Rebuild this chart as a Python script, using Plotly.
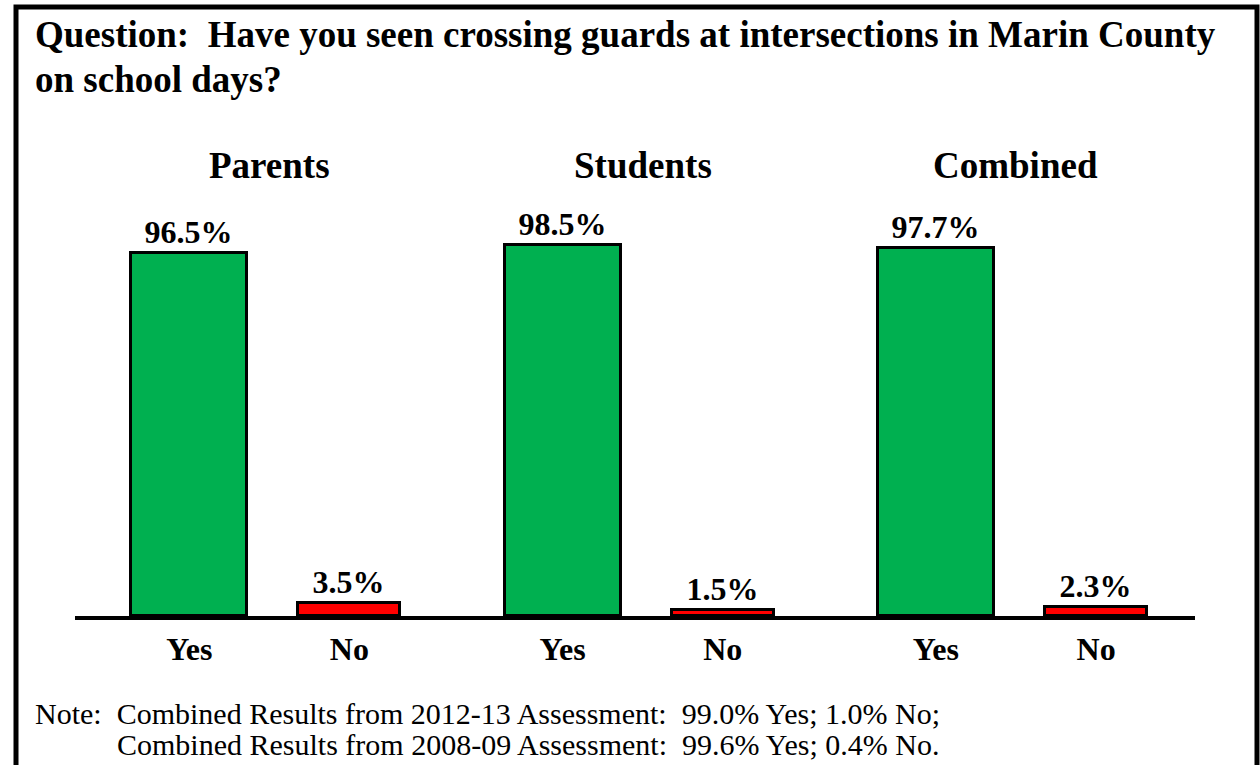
import plotly.graph_objects as go

# ---- data ----
groups = ["Parents", "Students", "Combined"]
yes_values = [96.5, 98.5, 97.7]
no_values = [3.5, 1.5, 2.3]
answer_labels = ["Yes", "No"]
title_lines = ["Question:  Have you seen crossing guards at intersections in Marin County",
               "on school days?"]
note_lines = ["Note:  Combined Results from 2012-13 Assessment:  99.0% Yes; 1.0% No;",
              "Combined Results from 2008-09 Assessment:  99.6% Yes; 0.4% No."]

# ---- layout constants (pixels) ----
W, H = 1260, 765
L, R = 75, 1195          # axis line extent
BASE, TOP = 616, 202     # baseline and top of plot area
YMAX = 110
YES_OFF, NO_OFF = 0.306, 0.735
YES_W, NO_W = 0.311, 0.273
FONT = "Liberation Serif, Times New Roman, serif"


def px(x):
    return (x - L) / (R - L)


def py(y):
    return (BASE - y) / (BASE - TOP)


n = len(groups)
x_yes = [i + YES_OFF for i in range(n)]
x_no = [i + NO_OFF for i in range(n)]

label_font = dict(family=FONT, size=32, color="black", weight="bold")

fig = go.Figure()
fig.add_trace(go.Bar(
    x=x_yes, y=yes_values, width=YES_W, name="Yes",
    marker=dict(color="#00B050", line=dict(color="black", width=3)),
    text=[f"{v:.1f}%" for v in yes_values], textposition="outside",
    textfont=label_font, cliponaxis=False,
))
fig.add_trace(go.Bar(
    x=x_no, y=no_values, width=NO_W, name="No",
    marker=dict(color="#FF0000", line=dict(color="black", width=3)),
    text=[f"{v:.1f}%" for v in no_values], textposition="outside",
    textfont=label_font, cliponaxis=False,
))

tickvals = []
ticktext = []
for i in range(n):
    tickvals += [x_yes[i], x_no[i]]
    ticktext += ["<b>" + a + "</b>" for a in answer_labels]

annotations = []
# title
for text, yy in zip(title_lines, [34, 79]):
    annotations.append(dict(xref="paper", yref="paper", x=px(33), y=py(yy), xanchor="left", yanchor="middle",
                            text="<b>" + text + "</b>", showarrow=False,
                            font=dict(family=FONT, size=37, color="black")))
# group titles
for i, g in enumerate(groups):
    annotations.append(dict(xref="x", yref="paper", x=(x_yes[i] + x_no[i]) / 2, y=py(165),
                            xanchor="center", yanchor="middle", text="<b>" + g + "</b>", showarrow=False,
                            font=dict(family=FONT, size=37, color="black")))
# note
for text, xx, yy in zip(note_lines, [33, 115], [713, 744]):
    annotations.append(dict(xref="paper", yref="paper", x=px(xx), y=py(yy), xanchor="left", yanchor="middle",
                            text=text, showarrow=False, font=dict(family=FONT, size=30, color="black")))

shapes = [dict(type="rect", xref="paper", yref="paper", x0=px(16), x1=px(1257), y0=py(800), y1=py(7),
               line=dict(color="black", width=5), fillcolor="rgba(0,0,0,0)", layer="above")]

fig.update_layout(
    width=W, height=H,
    margin=dict(l=L, r=W - R, t=TOP, b=H - BASE, pad=0),
    plot_bgcolor="white", paper_bgcolor="white",
    showlegend=False, bargap=0,
    xaxis=dict(range=[0, n], tickvals=tickvals, ticktext=ticktext, showgrid=False, zeroline=False,
               showline=True, linecolor="black", linewidth=4, ticks="", ticklabelstandoff=2,
               tickfont=dict(family=FONT, size=32, color="black"),
               fixedrange=True),
    yaxis=dict(range=[0, YMAX], visible=False, fixedrange=True),
    annotations=annotations, shapes=shapes,
    font=dict(family=FONT),
)

fig.write_html("out.html", config={"displayModeBar": False},
               post_script="document.body.style.margin='0';document.body.style.overflow='hidden';")
